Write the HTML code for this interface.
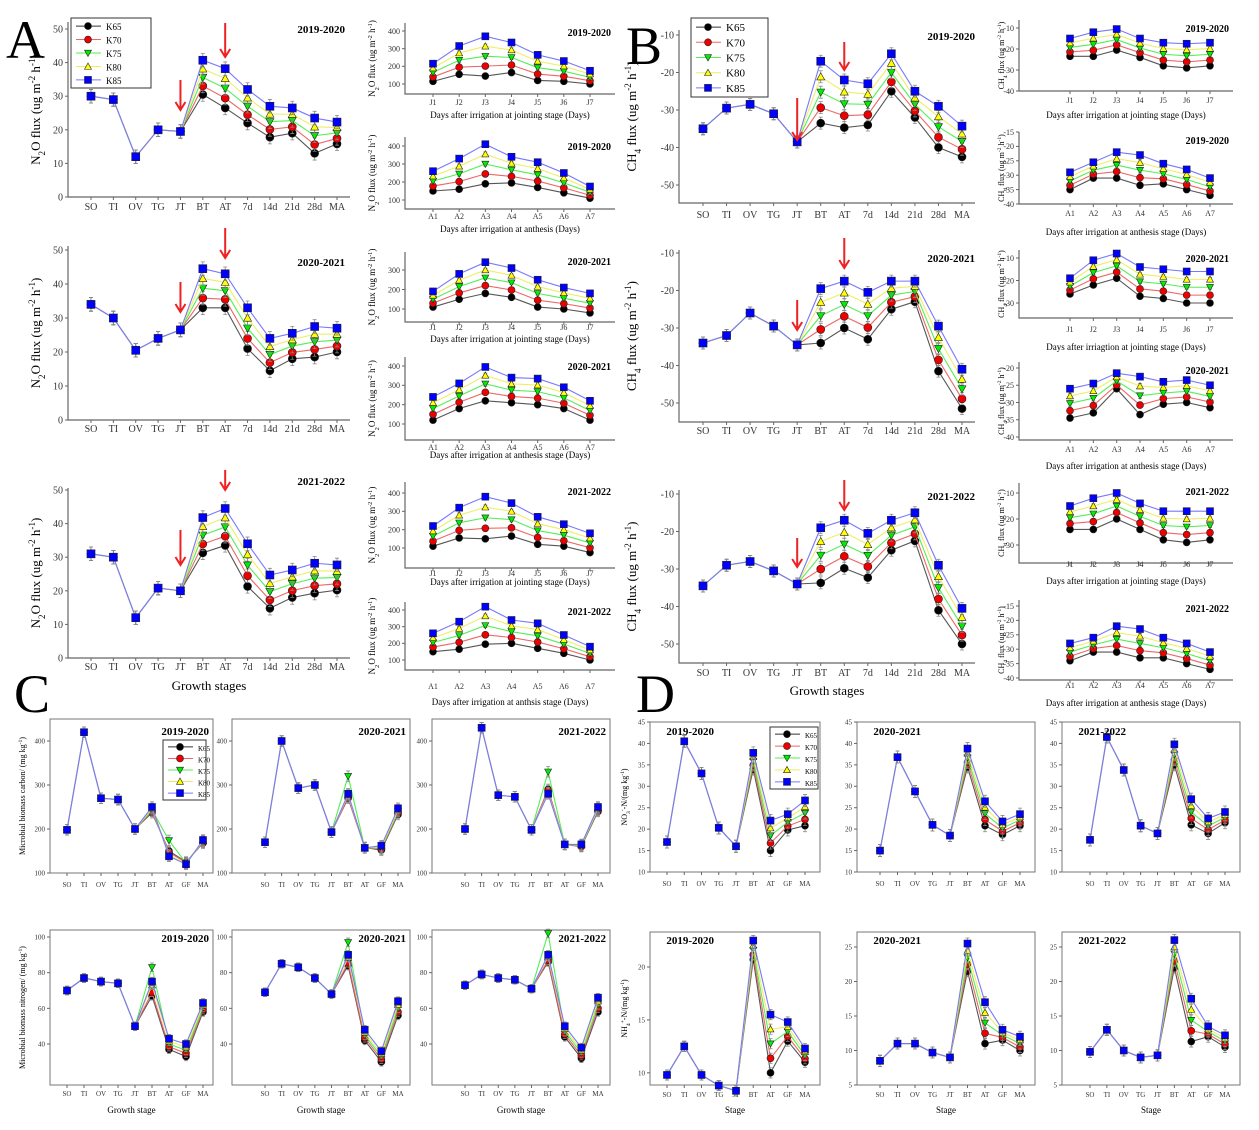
<!DOCTYPE html><html><head><meta charset="utf-8"><style>body{margin:0;background:#fff}svg{display:block}text{font-family:"Liberation Serif",serif}</style></head><body>
<svg id="s" width="1259" height="1130" xmlns="http://www.w3.org/2000/svg"></svg>
<script>
const S=document.getElementById('s');let h='';
const COL=['#000','#e00','#0e0','#ff0','#00f'],LC=['#555','#e66','#5e5','#ee6','#77f'];
function mk(sh,x,y,r,c){if(sh==0||sh==1)return `<circle cx="${x}" cy="${y}" r="${r}" fill="${c}" stroke="#222" stroke-width=".6"/>`;
if(sh==2)return `<polygon points="${x-r},${y-r*.8} ${x+r},${y-r*.8} ${x},${y+r}" fill="${c}" stroke="#222" stroke-width=".6"/>`;
if(sh==3)return `<polygon points="${x-r},${y+r*.8} ${x+r},${y+r*.8} ${x},${y-r}" fill="${c}" stroke="#222" stroke-width=".6"/>`;
return `<rect x="${x-r}" y="${y-r}" width="${2*r}" height="${2*r}" fill="${c}" stroke="#222" stroke-width=".6"/>`;}
function P(o){const [x0,y0,x1,y1]=o.box,[v0,p0,v1,p1]=o.ym,Y=v=>p0+(v-v0)*(p1-p0)/(v1-v0);
const fs=o.fs||8,ms=o.ms||3.2;
if(o.full)h+=`<rect x="${x0}" y="${y0}" width="${x1-x0}" height="${y1-y0}" fill="none" stroke="#777" stroke-width="1"/>`;
else h+=`<path d="M${x0} ${y0}V${y1}H${x1}" fill="none" stroke="#666" stroke-width="1.2"/>`;
o.ticks.forEach(t=>{const y=Y(t);h+=`<line x1="${x0-3}" x2="${x0}" y1="${y}" y2="${y}" stroke="#666"/><text x="${x0-5}" y="${y+fs*.35}" font-size="${fs}" text-anchor="end" fill="#333">${t}</text>`});
const n=o.cats.length,X=i=>o.cx[0]+i*(o.cx[1]-o.cx[0])/(n-1);
o.cats.forEach((c,i)=>{h+=`<line x1="${X(i)}" x2="${X(i)}" y1="${y1}" y2="${y1+3}" stroke="#666"/><text x="${X(i)}" y="${o.xl}" font-size="${fs}" text-anchor="middle" fill="#333">${c}</text>`});
const sh=o.sh||0,ser=[];
for(let k=0;k<5;k++){const t=k/4;ser.push(o.a.map((v,i)=>i<sh?o.b[i]:v+(o.b[i]-v)*t+(k==2&&o.bump&&i==o.bump[0]?o.bump[1]:0)))}
const eb=o.eb||(Math.abs(p1-p0)*0.04);
for(let k=0;k<5;k++){const pts=ser[k].map((v,i)=>[X(i),Y(v)]);
h+=`<polyline points="${pts.map(p=>p.join(',')).join(' ')}" fill="none" stroke="${LC[k]}" stroke-width="1.1"/>`;
pts.forEach(p=>{h+=`<path d="M${p[0]} ${p[1]-eb}V${p[1]+eb}M${p[0]-2} ${p[1]-eb}h4M${p[0]-2} ${p[1]+eb}h4" stroke="#888" stroke-width=".8"/>`});
pts.forEach(p=>{h+=mk(k,p[0],p[1],ms,COL[k])});}
if(o.t)h+=`<text x="${o.t[0]}" y="${o.t[1]}" font-size="${o.tf||11}" font-weight="bold" text-anchor="end">${o.tt}</text>`;
if(o.yl)h+=`<text transform="translate(${o.yl[0]},${(y0+y1)/2}) rotate(-90)" font-size="${o.yf||8}" text-anchor="middle">${o.ylab}</text>`;
if(o.xt)h+=`<text x="${(x0+x1)/2}" y="${o.xt}" font-size="${o.xtf||9}" text-anchor="middle">${o.xtitle}</text>`;
(o.arr||[]).forEach(a=>{const x=X(a[0]);h+=`<path d="M${x} ${a[1]}V${a[2]}M${x-5} ${a[2]-8}L${x} ${a[2]}L${x+5} ${a[2]-8}" stroke="#e22" stroke-width="2" fill="none"/>`});
if(o.leg){const [lx,ly,w,hh,f]=o.leg;h+=`<rect x="${lx}" y="${ly}" width="${w}" height="${hh}" fill="#fff" stroke="#333"/>`;['K65','K70','K75','K80','K85'].forEach((l,k)=>{const yy=ly+hh*(k+.6)/5.2;h+=`<line x1="${lx+5}" x2="${lx+30}" y1="${yy}" y2="${yy}" stroke="${k?LC[k]:'#333'}"/>`+mk(k,lx+17,yy,3.5,COL[k])+`<text x="${lx+35}" y="${yy+4}" font-size="${f}">${l}</text>`})}}
const ST=['SO','TI','OV','TG','JT','BT','AT','7d','14d','21d','28d','MA'],S9=['SO','TI','OV','TG','JT','BT','AT','GF','MA'];
const J=[1,2,3,4,5,6,7].map(i=>'J'+i),A=[1,2,3,4,5,6,7].map(i=>'A'+i);
const N2O='N<tspan baseline-shift="sub" font-size="70%">2</tspan>O flux (ug m<tspan baseline-shift="super" font-size="70%">-2</tspan> h<tspan baseline-shift="super" font-size="70%">-1</tspan>)';
const CH4='CH<tspan baseline-shift="sub" font-size="70%">4</tspan> flux (ug m<tspan baseline-shift="super" font-size="70%">-2</tspan> h<tspan baseline-shift="super" font-size="70%">-1</tspan>)';
// A main
const am=[[22,197,[0,197,50,29],[0,10,20,30,40,50],[30,29,12,20,19.5,30.5,26.5,22,17.8,19,13,15.8],[30,29,12,20,19.5,40.7,38.2,32,27,26.5,23.5,22.3],'2019-2020',210,[[4,80,110],[6,23,57]],33],
[246,420,[0,420,50,250],[0,10,20,30,40,50],[34,30,20.5,24,26.5,33,33,21,14.5,18,18.5,20],[34,30,20.5,24,26.5,44.5,43,33,24,25.5,27.5,27],'2020-2021',432,[[4,282,312],[6,228,258]],266],
[488,658,[0,658,50,490],[0,10,20,30,40,50],[31,30,12,20.8,20,31.3,33.5,21.3,14.8,18,19.3,20.2],[31,30,12,20.8,20,41.8,44.5,34,24.7,26.2,28.2,27.7],'2021-2022',670,[[4,530,565],[6,470,490]],485]];
am.forEach((m,i)=>P({box:[68,m[0],350,m[1]],ym:m[2],ticks:m[3],cats:ST,cx:[91,337],xl:m[7],a:m[4],b:m[5],sh:5,fs:10,ms:4,t:[345,m[9]],tt:m[6],yl:[40],ylab:N2O,yf:13,arr:m[8],leg:i==0?[71,18,80,70,9]:null,xt:i==2?690:0,xtitle:'Growth stages',xtf:13}));
// B main
const bm=[[30,203,[-10,35,-50,185],[-10,-20,-30,-40,-50],[-35,-29.5,-28.5,-31,-38.5,-33.5,-34.7,-34,-25,-32,-40,-42.5],[-35,-29.5,-28.5,-31,-38.5,-17,-22,-23,-15,-25,-29,-34.3],'2019-2020',218,[[4,98,140],[6,42,70]],40],
[250,422,[-10,253,-50,403],[-10,-20,-30,-40,-50],[-34,-32,-26,-29.5,-34.5,-34,-30,-33,-25,-23,-41.5,-51.5],[-34,-32,-26,-29.5,-34.5,-19.5,-17.5,-20.5,-17.5,-17.5,-29.5,-41],'2020-2021',434,[[4,300,330],[6,238,268]],262],
[490,663,[-10,494,-50,644],[-10,-20,-30,-40,-50],[-34.5,-29,-28,-30.5,-34,-33.7,-29.8,-32.3,-25,-22.5,-41,-50],[-34.5,-29,-28,-30.5,-34,-19,-17,-20.5,-17,-15,-29,-40.5],'2021-2022',676,[[4,538,567],[6,480,510]],500]];
bm.forEach((m,i)=>P({box:[679,m[0],975,m[1]],ym:m[2],ticks:m[3],cats:ST,cx:[703,962],xl:m[7],a:m[4],b:m[5],sh:5,fs:10,ms:4,t:[975,m[9]],tt:m[6],yl:[636],ylab:CH4,yf:13,arr:m[8],leg:i==0?[691,18,77,79,11]:null,xt:i==2?695:0,xtitle:'Growth stages',xtf:13}));
// small N2O
const sn=[[23,94,[100,84,400,31],[100,200,300,400],J,[115,155,145,165,120,115,100],[215,315,370,335,265,230,175],'2019-2020',105,118,'Days after irrigation at jointing stage  (Days)'],
[137,209,[100,200,400,146],[100,200,300,400],A,[150,160,190,195,170,140,110],[260,330,410,340,310,250,175],'2019-2020',219,232,'Days after irrigation at anthesis (Days)'],
[252,322,[100,309,300,270],[100,200,300],J,[110,150,180,160,110,100,80],[190,280,340,310,250,210,180],'2020-2021',330,342,'Days after irrigation at jointing stage (Days)'],
[357,440,[100,424,400,366],[100,200,300,400],A,[120,180,220,210,200,180,120],[240,310,395,340,335,290,220],'2020-2021',450,458,'Days after irrigation at anthesis stage (Days)'],
[482,568,[100,548,400,493],[100,200,300,400],J,[110,155,150,165,120,110,75],[220,320,380,345,270,230,180],'2021-2022',576,585,'Days after irrigation at jointing stage (Days)'],
[602,670,[100,660,400,610],[100,200,300,400],A,[150,165,195,200,170,140,100],[260,330,420,340,320,250,180],'2021-2022',689,705,'Days after irrigation at anthsis stage (Days)']];
sn.forEach(m=>P({box:[405,m[0],615,m[1]],ym:m[2],ticks:m[3],cats:m[4],cx:[433,590],xl:m[8],a:m[5],b:m[6],fs:8,ms:3.5,t:[611,m[0]+13],tt:m[7],tf:10,yl:[375],ylab:N2O,yf:9,xt:m[9],xtitle:m[10],xtf:9}));
// small CH4
const sc=[[20,91,[-10,28,-40,91],[-10,-20,-30,-40],J,[-23.5,-23.5,-20.5,-24,-28,-29,-28],[-15,-12,-10.5,-15,-17,-17.5,-17],'2019-2020',103,118,'Days after irrigation at jointing stage (Days)'],
[132,204,[-15,132,-40,204],[-15,-20,-25,-30,-35,-40],A,[-35,-31,-31,-33.5,-33,-35,-37],[-29,-25.5,-22,-23,-26,-28,-31],'2019-2020',216,235,'Days after irrigation at anthesis stage (Days)'],
[250,318,[-10,258,-30,303],[-10,-20,-30],J,[-26,-22,-19,-27,-28,-30,-30],[-19,-11,-8,-14,-15,-16,-16],'2020-2021',332,350,'Days after irriagtion at jointing stage (Days)'],
[362,440,[-20,368,-40,437],[-20,-25,-30,-35,-40],A,[-34.5,-33,-26,-33.5,-30.5,-30,-31.5],[-26,-24.5,-21.5,-22.5,-24,-23.5,-25],'2020-2021',452,469,'Days after irrigation at anthesis stage (Days)'],
[483,563,[-10,493,-30,545],[-10,-20,-30],J,[-24,-24,-20,-24,-28,-29,-28],[-15,-12,-10,-14,-17,-17,-17],'2021-2022',567,584,'Days after irrigation at jointing stage (Days)'],
[600,680,[-15,606,-40,678],[-15,-20,-25,-30,-35,-40],A,[-34,-31,-31,-33,-33,-35,-37],[-28,-26,-22,-23,-26,-28,-31],'2021-2022',688,706,'Days after irrigation at anthesis stage (Days)']];
sc.forEach(m=>P({box:[1019,m[0],1233,m[1]],ym:m[2],ticks:m[3],cats:m[4],cx:[1070,1210],xl:m[8],a:m[5],b:m[6],fs:8,ms:3.5,t:[1229,m[0]+12],tt:m[7],tf:10,yl:[1004],ylab:CH4,yf:8,xt:m[9],xtitle:m[10],xtf:9}));
// C
const cx=[[50,213,67,203],[232,410,265,398],[432,610,465,598]];
const mbc=[[[198,420,270,267,200,237,150,125,168],[198,420,270,267,200,250,138,120,175],'2019-2020',[6,30]],
[[170,400,293,300,193,270,158,152,233],[170,400,293,300,193,280,157,162,247],'2020-2021',[5,45]],
[[200,430,277,273,198,290,165,160,240],[200,430,277,273,198,280,165,165,250],'2021-2022',[5,45]]];
mbc.forEach((m,i)=>P({box:[cx[i][0],719,cx[i][1],873],full:1,ym:[100,873,400,741],ticks:[100,200,300,400],cats:S9,cx:[cx[i][2],cx[i][3]],xl:887,a:m[0],b:m[1],sh:5,bump:m[3],fs:7,ms:3.5,t:[cx[i][1]-4,735],tt:m[2],tf:11,yl:i==0?[25]:null,ylab:'Microbial biomass carbon/ (mg kg<tspan baseline-shift="super" font-size="70%">-1</tspan>)',yf:8,leg:i==0?[163,740,43,60,7]:null}));
const mbn=[[[70,77,75,74,50,67,37,33,58],[70,77,75,74,50,75,43,40,63],'2019-2020',[5,12]],
[[69,85,83,77,68,84,42,30,56],[69,85,83,77,68,90,48,36,64],'2020-2021',[5,10]],
[[73,79,77,76,71,86,44,32,58],[73,79,77,76,71,90,50,38,66],'2021-2022',[5,14]]];
mbn.forEach((m,i)=>P({box:[cx[i][0],930,cx[i][1],1085],full:1,ym:[40,1044,100,937],ticks:[40,60,80,100],cats:S9,cx:[cx[i][2],cx[i][3]],xl:1096,a:m[0],b:m[1],sh:5,bump:m[3],fs:7,ms:3.5,t:[cx[i][1]-4,942],tt:m[2],tf:11,yl:i==0?[25]:null,ylab:'Microbial biomass nitrogen/ (mg kg<tspan baseline-shift="super" font-size="70%">-1</tspan>)',yf:8,xt:1113,xtitle:'Growth stage',xtf:9}));
// D
const dx=[[650,820,667,805],[857,1035,880,1020],[1062,1240,1090,1225]];
const no3=[[[17,40.5,33,20.3,16,34,15,19.8,20.8],[17,40.5,33,20.3,16,37.8,22,23.5,26.7],'2019-2020'],
[[15,36.8,28.8,21,18.5,34.5,20.8,18.7,20.8],[15,36.8,28.8,21,18.5,38.8,26.5,21.8,23.5],'2020-2021'],
[[17.5,41.5,33.8,20.8,19,35,21,19,21.5],[17.5,41.5,33.8,20.8,19,39.8,27,22.5,24],'2021-2022']];
no3.forEach((m,i)=>P({box:[dx[i][0],722,dx[i][1],872],full:1,ym:[10,872,45,722],ticks:[10,15,20,25,30,35,40,45],cats:S9,cx:[dx[i][2],dx[i][3]],xl:886,a:m[0],b:m[1],sh:5,fs:7,ms:3.5,t:[dx[i][0]+64,735],tt:m[2],tf:11,yl:i==0?[627]:null,ylab:'NO<tspan baseline-shift="sub" font-size="70%">3</tspan><tspan baseline-shift="super" font-size="70%">-</tspan>-N/(mg kg<tspan baseline-shift="super" font-size="70%">-1</tspan>)',yf:8,leg:i==0?[770,727,48,62,7]:null}));
const nh4=[[[9.8,12.5,9.8,8.8,8.3,20.7,10,13,11],[9.8,12.5,9.8,8.8,8.3,22.5,15.5,14.8,12.3],'2019-2020',[8,1094,20,967],[10,15,20]],
[[8.5,11,11,9.7,9,21.5,11,11.5,10],[8.5,11,11,9.7,9,25.5,17,13,12],'2020-2021',[5,1085,25,947],[5,10,15,20,25]],
[[9.8,13,10,9,9.3,22,11.3,12,10.5],[9.8,13,10,9,9.3,26,17.5,13.5,12.2],'2021-2022',[5,1085,25,947],[5,10,15,20,25]]];
nh4.forEach((m,i)=>P({box:[dx[i][0],932,dx[i][1],1085],full:1,ym:m[3],ticks:m[4],cats:S9,cx:[dx[i][2],dx[i][3]],xl:1097,a:m[0],b:m[1],sh:5,fs:7,ms:3.5,t:[dx[i][0]+64,944],tt:m[2],tf:11,yl:i==0?[627]:null,ylab:'NH<tspan baseline-shift="sub" font-size="70%">4</tspan><tspan baseline-shift="super" font-size="70%">+</tspan>-N/(mg kg<tspan baseline-shift="super" font-size="70%">-1</tspan>)',yf:8,xt:1113,xtitle:'Stage',xtf:9}));
h+=`<text x="6" y="58" font-size="54" font-family="Liberation Sans">A</text><text x="626" y="64" font-size="54" font-family="Liberation Sans">B</text><text x="14" y="712" font-size="54" font-family="Liberation Sans">C</text><text x="636" y="712" font-size="54" font-family="Liberation Sans">D</text>`;
S.innerHTML=h;
</script></body></html>
